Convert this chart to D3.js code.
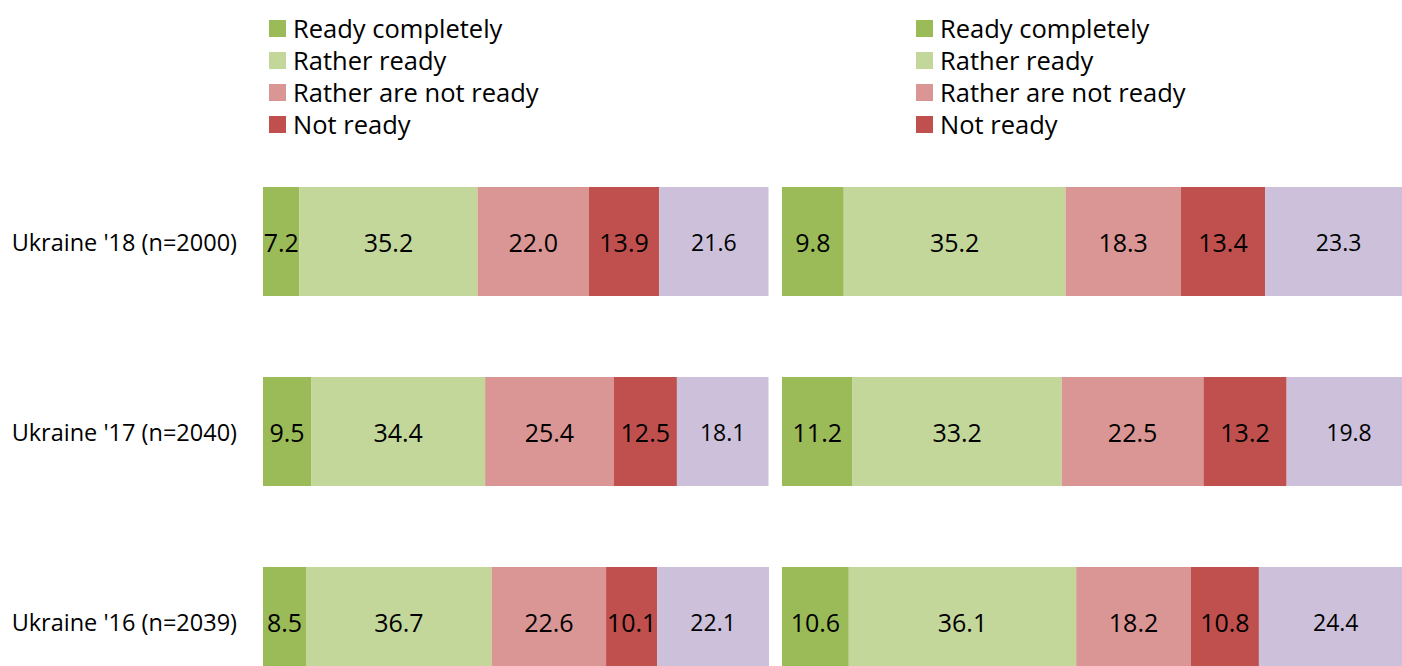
<!DOCTYPE html>
<html>
<head>
<meta charset="utf-8">
<script src="https://cdn.jsdelivr.net/npm/d3@7"></script>
<style>
  body { margin: 0; background: #fff; }
  svg { display: block; font-family: "Open Sans", sans-serif; }
</style>
</head>
<body>
<svg></svg>
<script>
const width = 1402;
const height = 666;

// data
const rows = ["Ukraine '18 (n=2000)", "Ukraine '17 (n=2040)", "Ukraine '16 (n=2039)"];
const seriesNames = ["Ready completely", "Rather ready", "Rather are not ready", "Not ready", "Hard to say"];
const legendNames = ["Ready completely", "Rather ready", "Rather are not ready", "Not ready"];
const leftValues = [
  [7.2, 35.2, 22.0, 13.9, 21.6],
  [9.5, 34.4, 25.4, 12.5, 18.1],
  [8.5, 36.7, 22.6, 10.1, 22.1]
];
const rightValues = [
  [9.8, 35.2, 18.3, 13.4, 23.3],
  [11.2, 33.2, 22.5, 13.2, 19.8],
  [10.6, 36.1, 18.2, 10.8, 24.4]
];
const colors = ["#9bbb59", "#c4d79b", "#da9694", "#c0504d", "#ccc0da"];

const svg = d3.select("svg")
  .attr("width", width)
  .attr("height", height);

//row scale shared by both panels
const yScale = d3.scaleBand()
  .domain(rows)
  .range([187, 676])
  .paddingInner(81 / 190)
  .paddingOuter(0);

//row labels
svg.append("g")
  .selectAll("text")
  .data(rows)
  .enter()
  .append("text")
    .attr("x", 237)
    .attr("y", d => yScale(d) + yScale.bandwidth() / 2)
    .attr("text-anchor", "end")
    .attr("dominant-baseline", "central")
    .style("font-size", "23.5px")
    .style("fill", "#000")
    .text(d => d);

function drawPanel(values, x0, x1, legendX) {
  const xScale = d3.scaleLinear().domain([0, 100]).range([x0, x1]);

  const table = values.map((v, i) => {
    const o = { row: rows[i] };
    seriesNames.forEach((s, j) => o[s] = v[j]);
    return o;
  });
  const stacked = d3.stack().keys(seriesNames)(table);

  const layers = svg.append("g")
    .selectAll("g")
    .data(stacked)
    .enter()
    .append("g")
      .attr("fill", (d, i) => colors[i]);

  layers.selectAll("rect")
    .data(d => d)
    .enter()
    .append("rect")
      .attr("x", d => xScale(d[0]))
      .attr("y", d => yScale(d.data.row))
      .attr("width", d => xScale(d[1]) - xScale(d[0]))
      .attr("height", yScale.bandwidth());

  layers.selectAll("text")
    .data((d, i) => d.map(p => ({ p: p, i: i })))
    .enter()
    .append("text")
      .attr("x", d => (xScale(d.p[0]) + xScale(d.p[1])) / 2)
      .attr("y", d => yScale(d.p.data.row) + yScale.bandwidth() / 2)
      .attr("text-anchor", "middle")
      .attr("dominant-baseline", "central")
      .style("font-size", d => d.i === 4 ? "23px" : "25px")
      .style("fill", "#000")
      .text(d => (d.p[1] - d.p[0]).toFixed(1));

  //legend
  const legend = svg.append("g")
    .selectAll("g")
    .data(legendNames)
    .enter()
    .append("g")
      .attr("transform", (d, i) => `translate(${legendX},${20 + i * 32})`);

  legend.append("rect")
    .attr("width", 17)
    .attr("height", 17)
    .attr("fill", (d, i) => colors[i]);

  legend.append("text")
    .attr("x", 24)
    .attr("y", 8)
    .attr("dominant-baseline", "central")
    .style("font-size", "25.5px")
    .style("fill", "#000")
    .text(d => d);
}

drawPanel(leftValues, 263, 769, 269);
drawPanel(rightValues, 782, 1412, 916);
</script>
</body>
</html>
